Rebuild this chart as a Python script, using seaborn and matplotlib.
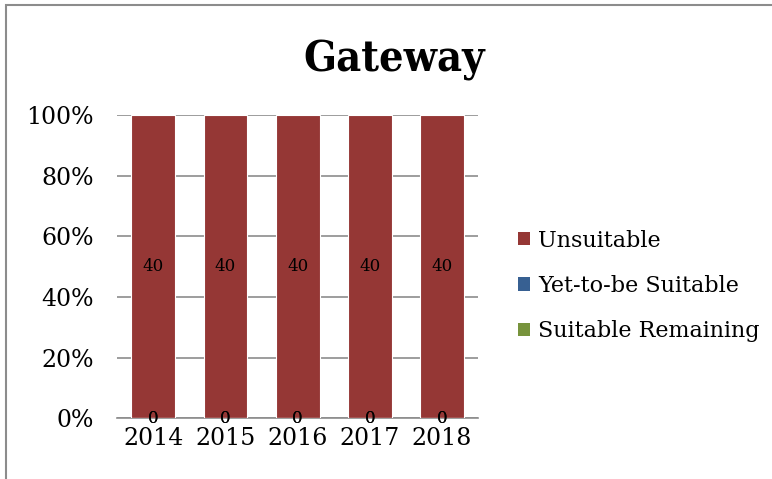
import matplotlib
matplotlib.use("Agg")
import matplotlib.pyplot as plt
import seaborn as sns
import pandas as pd
import numpy as np
from matplotlib import font_manager
from matplotlib.patches import Rectangle, Patch

# ---- data ----
years = ["2014", "2015", "2016", "2017", "2018"]
suitable_remaining = [0, 0, 0, 0, 0]
yet_to_be_suitable = [0, 0, 0, 0, 0]
unsuitable = [40, 40, 40, 40, 40]

series_names = ["Suitable Remaining", "Yet-to-be Suitable", "Unsuitable"]  # stack order, bottom -> top
series_values = [suitable_remaining, yet_to_be_suitable, unsuitable]
legend_order = ["Unsuitable", "Yet-to-be Suitable", "Suitable Remaining"]
colors = {"Unsuitable": "#953735", "Yet-to-be Suitable": "#376092", "Suitable Remaining": "#77933c"}

sns.set_style("white")
plt.rcParams["font.family"] = ["DejaVu Serif"]
plt.rcParams["text.color"] = "black"
plt.rcParams["xtick.color"] = "black"
plt.rcParams["ytick.color"] = "black"

# condensed bold serif for the title, if it is there
title_font = None
for f in font_manager.findSystemFonts():
    if "DejaVuSerifCondensed-Bold.ttf" in f:
        title_font = font_manager.FontProperties(fname=f, size=31)
        break
if title_font is None:
    title_font = font_manager.FontProperties(family="DejaVu Serif", weight="bold", size=29)

vals = np.array(series_values, dtype=float)
totals = vals.sum(axis=0)
pct = vals / totals * 100
cum = pct.cumsum(axis=0)

fig = plt.figure(figsize=(7.72, 4.79), dpi=100)
ax = fig.add_axes([0.152, 0.127, 0.467, 0.633])

# draw cumulative bars top series first so lower ones sit in front
for i in reversed(range(len(series_names))):
    df = pd.DataFrame({"year": years, "value": cum[i]})
    sns.barplot(data=df, x="year", y="value", color=colors[series_names[i]],
                width=0.61, saturation=1, ax=ax, zorder=3,
                edgecolor="white", linewidth=0.8)

# data labels
for i, name in enumerate(series_names):
    bottoms = cum[i] - pct[i]
    for j in range(len(years)):
        ax.text(j, bottoms[j] + pct[i][j] / 2, f"{vals[i][j]:g}", ha="center", va="center",
                fontsize=12, color="black", zorder=5)

ax.set_ylim(0, 100)
ax.set_xlim(-0.5, len(years) - 0.5)
ax.set_yticks(np.arange(0, 101, 20))
ax.set_yticklabels([f"{v}%" for v in range(0, 101, 20)], fontsize=17)
ax.tick_params(axis="x", labelsize=17, length=0, pad=6)
ax.tick_params(axis="y", length=0, pad=17)
ax.set_xlabel("")
ax.set_ylabel("")
ax.grid(axis="y", color="#8c8c8c", linewidth=1.2, zorder=0)
ax.set_axisbelow(True)
for s in ["top", "right", "left"]:
    ax.spines[s].set_visible(False)
ax.spines["bottom"].set_color("#8c8c8c")
ax.spines["bottom"].set_linewidth(1.2)

# legend
handles = [Patch(facecolor=colors[n], edgecolor="none") for n in legend_order]
fig.legend(handles, legend_order,
           loc="center left", bbox_to_anchor=(0.645, 0.403), frameon=False,
           fontsize=16, handlelength=0.55, handleheight=0.55, handletextpad=0.35,
           labelspacing=1.05)

fig.text(0.510, 0.85, "Gateway", ha="center", va="baseline", fontproperties=title_font)

# outer chart border (only top and left visible)
fig.patches.append(Rectangle((0.008, -0.1), 1.1, 1.09, transform=fig.transFigure,
                             fill=False, edgecolor="#8c8c8c", linewidth=1.5))

fig.savefig("out.png", dpi=100)
